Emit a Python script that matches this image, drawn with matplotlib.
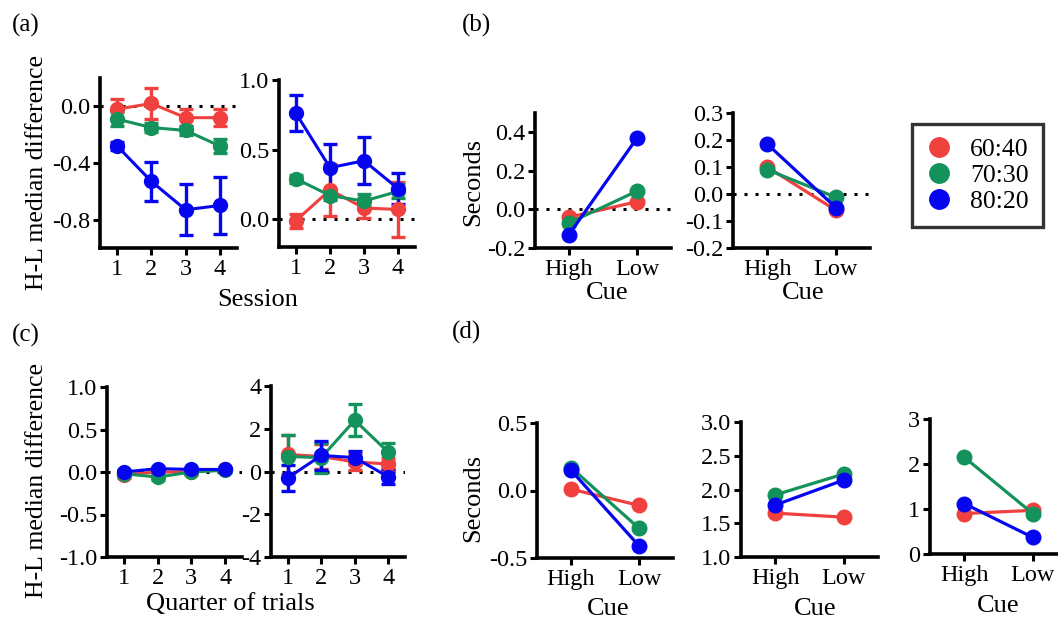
import matplotlib.pyplot as plt
from matplotlib.lines import Line2D

plt.rcParams['font.family'] = ['Liberation Serif', 'DejaVu Serif']
plt.rcParams['axes.unicode_minus'] = False

groups = ["60:40", "70:30", "80:20"]
colors = ["#F0413F", "#14925B", "#0505F0"]
sessions = [1, 2, 3, 4]
cues = ["High", "Low"]

# (a) H-L median difference by session (rows: 60:40, 70:30, 80:20)
a1_mean = [[-0.02, 0.02, -0.08, -0.08],
           [-0.09, -0.15, -0.17, -0.28],
           [-0.28, -0.53, -0.73, -0.70]]
a1_err = [[0.07, 0.11, 0.06, 0.06],
          [0.05, 0.03, 0.03, 0.05],
          [0.03, 0.14, 0.18, 0.20]]
a2_mean = [[-0.01, 0.21, 0.08, 0.07],
           [0.29, 0.17, 0.13, 0.20],
           [0.76, 0.37, 0.42, 0.22]]
a2_err = [[0.05, 0.19, 0.07, 0.20],
          [0.03, 0.03, 0.05, 0.05],
          [0.13, 0.17, 0.17, 0.11]]

# (b) seconds, High vs Low cue
b1_vals = [[-0.04, 0.04], [-0.07, 0.095], [-0.13, 0.37]]
b2_vals = [[0.10, -0.06], [0.09, -0.012], [0.185, -0.05]]

# (c) H-L median difference by quarter of trials
c1_mean = [[-0.03, 0.0, 0.0, 0.03],
           [-0.02, -0.06, 0.0, 0.02],
           [0.0, 0.04, 0.03, 0.03]]
c1_err = [[0.04, 0.03, 0.02, 0.02],
          [0.03, 0.03, 0.02, 0.02],
          [0.02, 0.02, 0.02, 0.02]]
c2_mean = [[0.8, 0.7, 0.45, 0.35],
           [0.7, 0.65, 2.4, 0.9],
           [-0.3, 0.75, 0.65, -0.25]]
c2_err = [[0.9, 0.6, 0.4, 0.3],
          [1.0, 0.7, 0.75, 0.45],
          [0.6, 0.7, 0.3, 0.35]]

# (d) seconds, High vs Low cue
d1_vals = [[0.01, -0.11], [0.17, -0.28], [0.15, -0.41]]
d2_vals = [[1.65, 1.59], [1.92, 2.23], [1.77, 2.14]]
d3_vals = [[0.90, 0.97], [2.15, 0.90], [1.12, 0.37]]

W, H = 1058, 621
fig = plt.figure(figsize=(W / 100, H / 100), dpi=100)


def box(l, t, r, b):
    return [l / W, 1 - b / H, (r - l) / W, (b - t) / H]


def style(ax):
    ax.spines['top'].set_visible(False)
    ax.spines['right'].set_visible(False)
    for s in ['left', 'bottom']:
        ax.spines[s].set_linewidth(2.6)
    ax.tick_params(width=2.2, length=5, labelsize=17.5, pad=2)
    ax.tick_params(axis='x', pad=3)


def zero_line(ax):
    ax.axhline(0, color='black', lw=2.2, ls=(0, (1, 2.6)), zorder=1)


def session_panel(rect, means, errs, ylim, yticks, dotted=True):
    ax = fig.add_axes(box(*rect))
    if dotted:
        zero_line(ax)
    for m, e, c in zip(means, errs, colors):
        ax.errorbar(sessions, m, yerr=e, color=c, marker='o', markersize=10,
                    lw=2.2, elinewidth=2.4, capsize=5, capthick=2.4, zorder=3)
    ax.set_xlim(0.5, 4.5)
    ax.set_ylim(*ylim)
    ax.set_xticks(sessions)
    ax.set_yticks(yticks)
    style(ax)
    return ax


def cue_panel(rect, vals, ylim, yticks, dotted=False):
    ax = fig.add_axes(box(*rect))
    if dotted:
        zero_line(ax)
    for v, c in zip(vals, colors):
        ax.plot([0, 1], v, color=c, marker='o', markersize=10.5, lw=2.3, zorder=3)
    ax.set_xlim(-0.5, 1.5)
    ax.set_ylim(*ylim)
    ax.set_xticks([0, 1])
    ax.set_xticklabels(cues)
    ax.set_yticks(yticks)
    style(ax)
    return ax


# (a)
session_panel((100, 78, 237, 248), a1_mean, a1_err, (-1.0, 0.2), [0.0, -0.4, -0.8])
session_panel((279, 80, 415, 247), a2_mean, a2_err, (-0.2, 1.0), [0.0, 0.5, 1.0])

# (b)
cue_panel((535, 113, 671, 248), b1_vals, (-0.2, 0.5), [-0.2, 0.0, 0.2, 0.4], dotted=True)
cue_panel((733, 113, 870, 248), b2_vals, (-0.2, 0.3),
          [-0.2, -0.1, 0.0, 0.1, 0.2, 0.3], dotted=True)

# (c)
session_panel((107, 387, 242, 557), c1_mean, c1_err, (-1.0, 1.0),
              [-1.0, -0.5, 0.0, 0.5, 1.0])
session_panel((271, 386, 405, 557), c2_mean, c2_err, (-4, 4), [-4, -2, 0, 2, 4])

# (d)
cue_panel((537, 423, 673, 558), d1_vals, (-0.5, 0.5), [-0.5, 0.0, 0.5])
cue_panel((741, 422, 878, 557), d2_vals, (1.0, 3.0), [1.0, 1.5, 2.0, 2.5, 3.0])
cue_panel((930, 419, 1067, 554), d3_vals, (0, 3), [0, 1, 2, 3])

# panel letters and axis labels
for x, y, s in [(12, 25, "(a)"), (462, 25, "(b)"), (12, 335, "(c)"), (452, 332, "(d)")]:
    fig.text(x / W, 1 - y / H, s, fontsize=18, va='center', ha='left')

fig.text(37 / W, 1 - 172 / H, "H-L median difference", fontsize=18.5,
         rotation=90, ha='center', va='center')
fig.text(37 / W, 1 - 480 / H, "H-L median difference", fontsize=18.5,
         rotation=90, ha='center', va='center')
fig.text(258 / W, 1 - 300 / H, "Session", fontsize=19, ha='center', va='center')
fig.text(230 / W, 1 - 604 / H, "Quarter of trials", fontsize=19, ha='center', va='center')
fig.text(473 / W, 1 - 182 / H, "Seconds", fontsize=19, rotation=90, ha='center', va='center')
fig.text(473 / W, 1 - 498 / H, "Seconds", fontsize=19, rotation=90, ha='center', va='center')
for x, y in [(607, 293), (803, 293), (608, 609), (815, 609), (998, 606)]:
    fig.text(x / W, 1 - y / H, "Cue", fontsize=19, ha='center', va='center')

# legend
handles = [Line2D([], [], marker='o', color=c, ls='none', markersize=14) for c in colors]
leg = fig.legend(handles, groups, loc='upper left', bbox_to_anchor=(912 / W, 1 - 124 / H),
                 borderaxespad=0, fontsize=18.5, frameon=True, fancybox=False,
                 handlelength=1.0, handletextpad=0.7, labelspacing=0.12,
                 borderpad=0.55)
leg.get_frame().set_edgecolor('black')
leg.get_frame().set_linewidth(2.4)

plt.savefig("out.png", dpi=100)
